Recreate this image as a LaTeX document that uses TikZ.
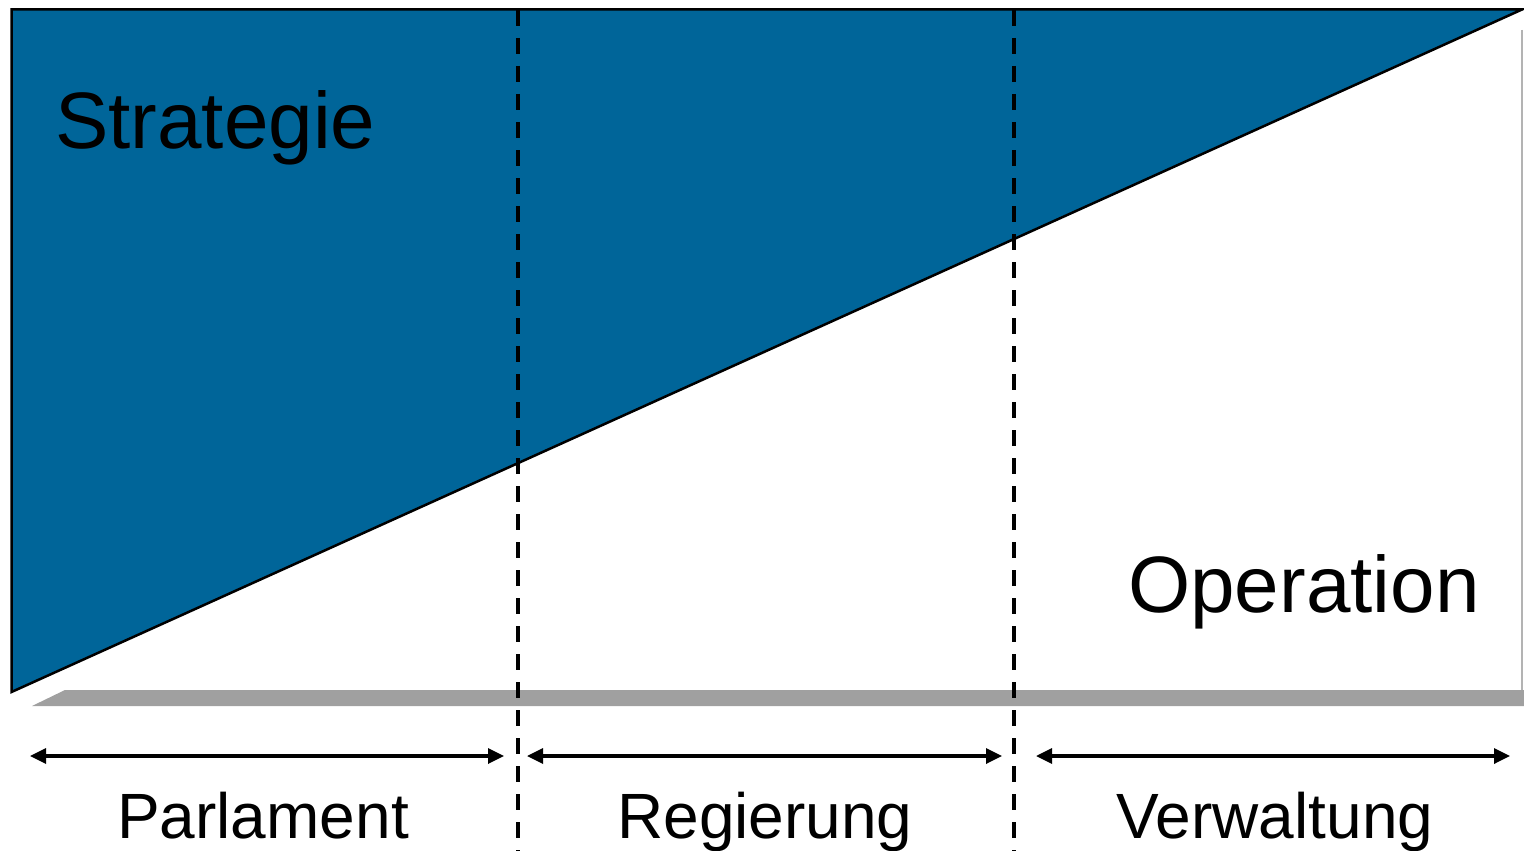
\documentclass[tikz,border=0pt]{standalone}
\usepackage{fontspec}
\setmainfont{Liberation Sans}
\usetikzlibrary{arrows.meta}
\definecolor{stratblue}{RGB}{0,101,153}
\definecolor{shadowgray}{RGB}{160,160,160}
\tikzset{
  divider/.style={line width=3.5pt, dash pattern=on 16pt off 12pt},
  span/.style={line width=3.3pt, {Triangle[length=16pt,width=15pt]}-{Triangle[length=16pt,width=15pt]}},
  bigtext/.style={inner sep=0pt, font=\fontsize{80pt}{96pt}\selectfont},
  labeltext/.style={inner sep=0pt, font=\fontsize{64pt}{76pt}\selectfont, anchor=base},
}
\begin{document}
\begin{tikzpicture}[x=1pt,y=-1pt]
\useasboundingbox (0,0) rectangle (1524,851);
\fill[white] (0,0) rectangle (1524,851);
% shadow
\fill[shadowgray] (65,690) -- (1524,690) -- (1524,706) -- (32,706) -- cycle;
\draw[shadowgray!80, line width=2pt] (1522,30) -- (1522,690);
% blue wedge
\coordinate (tl) at (11.5,9.5);
\coordinate (tr) at (1522,9.5);
\coordinate (bl) at (11.5,692);
\fill[stratblue] (tl) -- (tr) -- (bl) -- cycle;
\draw[line width=2.5pt, line join=miter] (tl) -- (tr) -- (bl) -- cycle;
% dividers
\coordinate (d1t) at (518,10);
\coordinate (d1b) at (518,851);
\coordinate (d2t) at (1014,10);
\coordinate (d2b) at (1014,851);
\draw[divider] (d1t) -- (d1b);
\draw[divider] (d2t) -- (d2b);
% spans
\coordinate (a1l) at (30,756);
\coordinate (a1r) at (504,756);
\coordinate (a2l) at (527,756);
\coordinate (a2r) at (1002,756);
\coordinate (a3l) at (1036,756);
\coordinate (a3r) at (1510,756);
\draw[span] (a1l) -- (a1r);
\draw[span] (a2l) -- (a2r);
\draw[span] (a3l) -- (a3r);
% texts
\node[bigtext, anchor=base west] (strat) at (55,148) {Strategie};
\node[bigtext, anchor=base west] (oper) at (1128,612) {Operation};
\node[labeltext] (parl) at (263,838) {Parlament};
\node[labeltext] (reg) at (765,838) {Regierung};
\node[labeltext] (verw) at (1275,838) {Verwaltung};
\end{tikzpicture}
\end{document}
